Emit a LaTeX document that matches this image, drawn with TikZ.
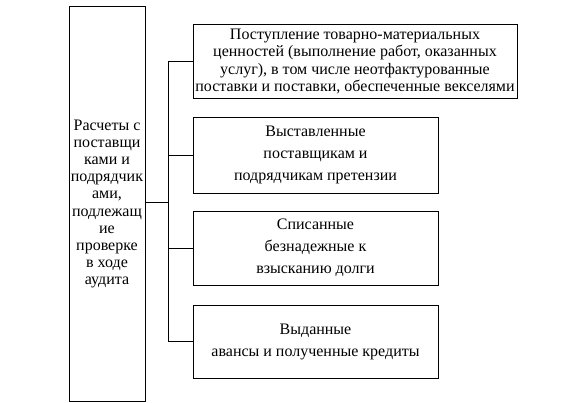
\documentclass[tikz,border=0pt]{standalone}
\usepackage{fontspec}
\setmainfont{Liberation Serif}
\begin{document}
\begin{tikzpicture}[x=0.75pt, y=-0.75pt, line width=0.75pt,
    box/.style={draw, inner sep=0pt, align=center},
    tight/.style={font=\fontsize{12}{12.9}\selectfont},
    loose/.style={font=\fontsize{12}{16.5}\selectfont}]
    \useasboundingbox (0,0) rectangle (585,403);

    % Left box
    \node[box, tight, minimum width=57pt, minimum height=295.5pt] (calc) at (107, 204)
        {Расчеты с\\поставщи\\ками и\\подрядчик\\ами,\\подлежащ\\ие\\проверке\\в ходе\\аудита};

    % Boxes on the right
    \node[box, tight, minimum width=243pt, minimum height=54.75pt] (inflow) at (355, 61.5)
        {Поступление товарно-материальных\\ценностей (выполнение работ, оказанных\\услуг), в том числе неотфактурованные\\поставки и поставки, обеспеченные векселями};
    \node[box, loose, minimum width=183.75pt, minimum height=57pt] (claims) at (315.5, 155)
        {Выставленные\\поставщикам и\\подрядчикам претензии};
    \node[box, loose, minimum width=183.75pt, minimum height=55.5pt] (debts) at (315.5, 248)
        {Списанные\\безнадежные к\\взысканию долги};
    \node[box, loose, minimum width=183.75pt, minimum height=54.75pt] (advances) at (315.5, 341.5)
        {Выданные\\авансы и полученные кредиты};

    % Bus line
    \coordinate (bustop) at (168, 61.5);
    \coordinate (busbot) at (168, 341.5);
    \draw (bustop) -- (busbot);

    % Connectors
    \draw (calc.east |- 0, 202) -- (bustop |- 0, 202);
    \draw (inflow.west) -- (inflow.west -| bustop);
    \draw (claims.west) -- (claims.west -| bustop);
    \draw (debts.west) -- (debts.west -| bustop);
    \draw (advances.west) -- (advances.west -| bustop);
\end{tikzpicture}
\end{document}
